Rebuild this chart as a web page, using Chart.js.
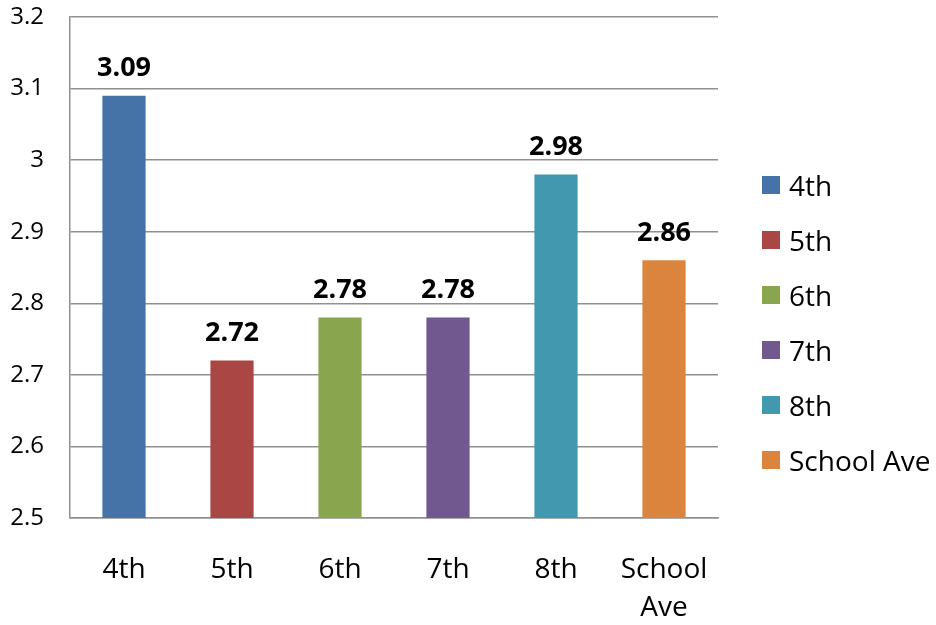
<!DOCTYPE html>
<html>
<head>
<meta charset="utf-8">
<script src="https://cdn.jsdelivr.net/npm/chart.js@4.4.1/dist/chart.umd.min.js"></script>
<style>
  html, body { margin: 0; padding: 0; background: #fff; }
  #wrap { position: relative; width: 936px; height: 625px; }
  #legend { position: absolute; left: 762px; top: 157px; font-family: 'Open Sans', sans-serif; font-size: 28px; color: #000; }
  #legend .row { display: flex; align-items: center; height: 55px; white-space: nowrap; }
  #legend .box { width: 18px; height: 18px; margin-right: 9px; flex: none; }
</style>
</head>
<body>
<div id="wrap">
  <canvas id="chart" width="936" height="625"></canvas>
  <div id="legend"></div>
</div>
<script>
const categories = [['4th'], ['5th'], ['6th'], ['7th'], ['8th'], ['School', 'Ave']];
const legendNames = ['4th', '5th', '6th', '7th', '8th', 'School Ave'];
const scores = [3.09, 2.72, 2.78, 2.78, 2.98, 2.86];
const colors = ['#4572a7', '#aa4643', '#89a54e', '#71588f', '#4198af', '#db843d'];
const yTicks = [2.5, 2.6, 2.7, 2.8, 2.9, 3.0, 3.1, 3.2];

const font = "'Open Sans', sans-serif";

// bold value above each bar
const valueLabels = {
  id: 'valueLabels',
  afterDatasetsDraw(chart) {
    const ctx = chart.ctx;
    const meta = chart.getDatasetMeta(0);
    ctx.save();
    ctx.font = `bold 27px ${font}`;
    ctx.fillStyle = '#000';
    ctx.textAlign = 'center';
    ctx.textBaseline = 'middle';
    meta.data.forEach((bar, i) => {
      ctx.fillText(scores[i].toFixed(2), bar.x, bar.y - 27);
    });
    ctx.restore();
  }
};

function noPadding(scale) {
  scale.paddingTop = 0;
  scale.paddingBottom = 0;
  scale.paddingLeft = 0;
  scale.paddingRight = 0;
}

new Chart(document.getElementById('chart'), {
  type: 'bar',
  data: {
    labels: categories,
    datasets: [{
      data: scores,
      backgroundColor: colors,
      barPercentage: 0.4,
      categoryPercentage: 1
    }]
  },
  options: {
    responsive: false,
    animation: false,
    layout: { padding: { left: 0, top: 17, right: 218, bottom: 0 } },
    scales: {
      x: {
        afterFit: scale => { scale.height = 107; noPadding(scale); },
        grid: { display: false, drawTicks: false },
        border: { display: true, color: '#909090', width: 1.5 },
        ticks: { color: '#000', padding: 33, font: { family: font, size: 28, lineHeight: 1.36 }, maxRotation: 0 }
      },
      y: {
        min: 2.5,
        max: 3.2,
        afterBuildTicks: scale => { scale.ticks = yTicks.map(v => ({ value: v })); },
        afterFit: scale => { scale.width = 70; noPadding(scale); },
        grid: { color: '#909090', lineWidth: 1.5, drawTicks: false },
        border: { display: true, color: '#909090', width: 1.5 },
        ticks: {
          color: '#000',
          padding: 26,
          font: { family: font, size: 24 },
          callback: v => String(Number(v.toFixed(1)))
        }
      }
    },
    plugins: {
      legend: { display: false },
      tooltip: { enabled: false }
    }
  },
  plugins: [valueLabels]
});

const legend = document.getElementById('legend');
legendNames.forEach((name, i) => {
  const row = document.createElement('div');
  row.className = 'row';
  row.innerHTML = `<span class="box" style="background:${colors[i]}"></span><span>${name}</span>`;
  legend.appendChild(row);
});
</script>
</body>
</html>
